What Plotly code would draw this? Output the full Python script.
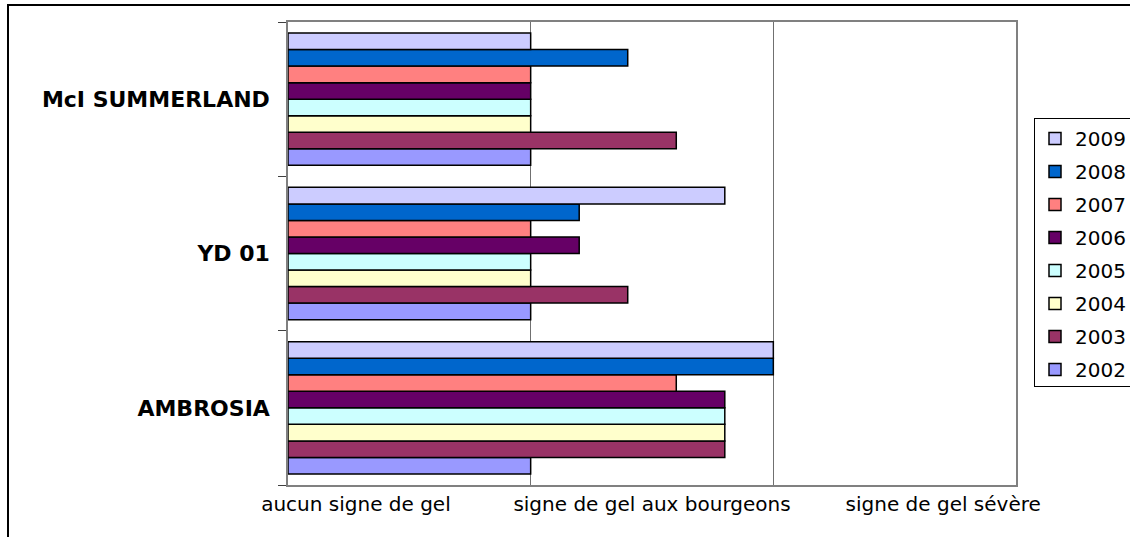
import plotly.graph_objects as go

# Frost damage level per variety and year (0-1: none, 1-2: bud frost, 2-3: severe)
varieties = ["AMBROSIA", "YD 01", "McI SUMMERLAND"]
years = ["2002", "2003", "2004", "2005", "2006", "2007", "2008", "2009"]
damage = {
    "2002": [1.0, 1.0, 1.0],
    "2003": [1.8, 1.4, 1.6],
    "2004": [1.8, 1.0, 1.0],
    "2005": [1.8, 1.0, 1.0],
    "2006": [1.8, 1.2, 1.0],
    "2007": [1.6, 1.0, 1.0],
    "2008": [2.0, 1.2, 1.4],
    "2009": [2.0, 1.8, 1.0],
}
colors = {
    "2002": "#9999FF",
    "2003": "#993366",
    "2004": "#FFFFCC",
    "2005": "#CCFFFF",
    "2006": "#660066",
    "2007": "#FF8080",
    "2008": "#0066CC",
    "2009": "#CCCCFF",
}
level_labels = ["aucun signe de gel", "signe de gel aux bourgeons", "signe de gel sévère"]

fig = go.Figure()
for i, yr in enumerate(years):
    fig.add_trace(go.Bar(
        x=damage[yr],
        y=varieties,
        orientation="h",
        name=yr,
        legendgroup=yr,
        legendrank=len(years) - i,  # newest year listed first
        marker=dict(color=colors[yr], line=dict(color="#000000", width=1.5)),
    ))

FONT = "DejaVu Sans, Liberation Sans, Arial, sans-serif"

W, H = 1130, 537
ML, MR, MT, MB = 288, 114, 22, 52
plot_w = W - ML - MR
plot_h = H - MT - MB

fig.update_layout(
    width=W,
    height=H,
    margin=dict(l=ML, r=MR, t=MT, b=MB, autoexpand=False),
    paper_bgcolor="white",
    plot_bgcolor="white",
    barmode="group",
    bargap=0.143,
    bargroupgap=0,
    font=dict(family=FONT, size=18, color="#000000"),
    showlegend=True,
    legend=dict(
        xref="container", yref="container",
        x=1034 / W, y=1 - 118 / H, xanchor="left", yanchor="top",
        traceorder="grouped",
        tracegroupgap=4,
        bordercolor="#000000", borderwidth=1,
        font=dict(family=FONT, size=20, color="#000000"),
        bgcolor="white",
    ),
    xaxis=dict(
        range=[0, 3],
        tickvals=[0.28, 1.5, 2.7],
        ticktext=level_labels,
        ticks="",
        showgrid=False,
        zeroline=False,
        showline=True, mirror=True, linecolor="#808080", linewidth=1.5,
        tickfont=dict(family=FONT, size=20),
        minor=dict(tickvals=[1, 2], showgrid=True, gridcolor="#707070", gridwidth=1),
        fixedrange=True,
    ),
    yaxis=dict(
        categoryorder="array",
        categoryarray=varieties,
        tickvals=varieties,
        ticktext=["<b>" + v + "</b>" for v in varieties],
        tickson="boundaries",
        ticks="outside", ticklen=8, tickcolor="#404040",
        showgrid=False,
        showline=True, mirror=True, linecolor="#808080", linewidth=1.5,
        tickfont=dict(family=FONT, size=22),
        ticklabelstandoff=12,
        fixedrange=True,
    ),
    shapes=[
        # outer chart frame (extends beyond the right and bottom edges)
        dict(type="rect", xref="paper", yref="paper",
             x0=(8 - ML) / plot_w, x1=(W + 10 - ML) / plot_w,
             y0=-(H + 13 - (H - MB)) / plot_h, y1=((H - MB) - 5) / plot_h,
             line=dict(color="#000000", width=2), fillcolor="rgba(0,0,0,0)",
             layer="below"),
    ],
)

fig.write_html("out.html")
